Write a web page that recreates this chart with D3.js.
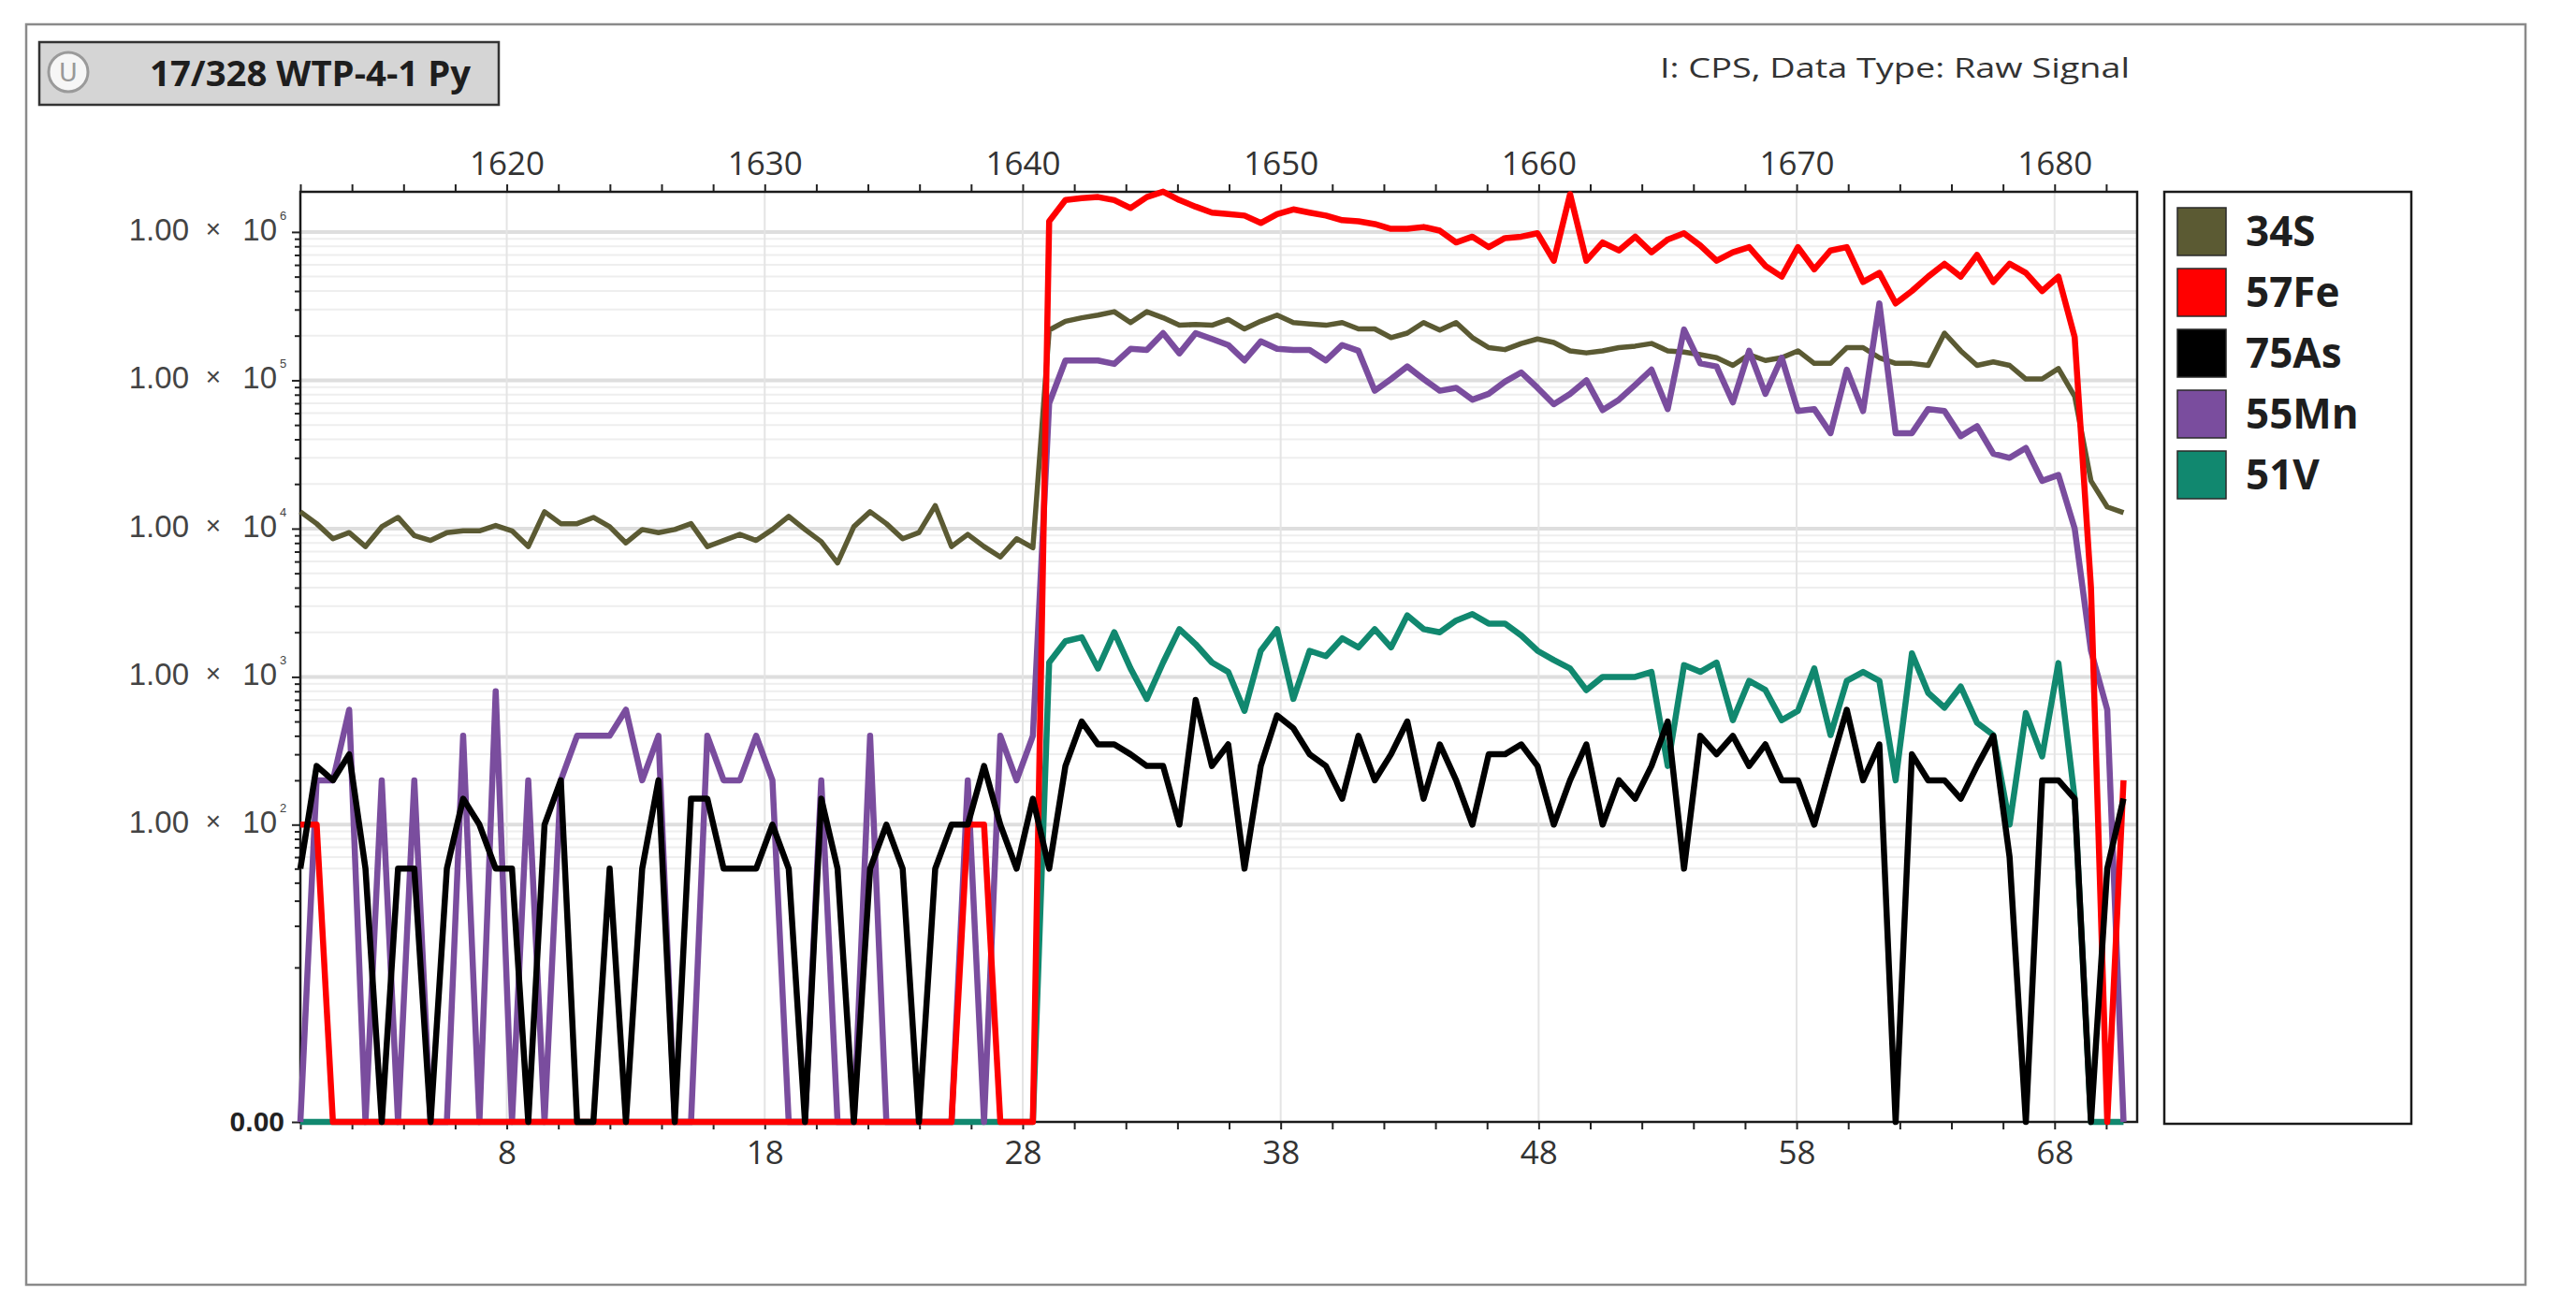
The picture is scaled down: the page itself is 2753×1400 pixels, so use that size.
<!DOCTYPE html>
<html>
<head>
<meta charset="utf-8">
<script src="https://cdn.jsdelivr.net/npm/d3@7"></script>
<style>
  body { margin: 0; background: #fff; }
  svg { display: block; }
</style>
</head>
<body>
<svg id="chart" width="2753" height="1400"></svg>
<script>
// acquisition: one reading per sweep, bottom axis starts at 0, top axis is absolute time
const sweepSeconds = 0.631;
const startTime = 1612;

const s34 = [13000, 10800, 8550, 9400, 7570, 10300, 11900, 8970, 8320, 9400,
  9660, 9660, 10500, 9660, 7570, 13000, 10800, 10800, 11900, 10300,
  8010, 9860, 9400, 9860, 10800, 7570, 8320, 9140, 8320, 9860,
  12100, 9860, 8170, 5870, 10300, 13000, 10800, 8550, 9400, 14300,
  7570, 9140, 7570, 6440, 8550, 7430, 218000, 250000, 264000, 275000,
  290000, 245000, 290000, 264000, 235000, 238000, 235000, 257000, 222000, 250000,
  275000, 245000, 240000, 235000, 245000, 222000, 222000, 194000, 208000, 245000,
  218000, 245000, 194000, 166000, 161000, 177000, 190000, 180000, 158000, 153000,
  158000, 166000, 170000, 177000, 158000, 155000, 149000, 142000, 126000, 149000,
  136000, 142000, 158000, 130000, 130000, 166000, 166000, 142000, 130000, 130000,
  126000, 208000, 158000, 126000, 133000, 126000, 102000, 102000, 120000, 78000,
  21000, 14000, 12800];

const fe57 = [100, 100, 0, 0, 0, 0, 0, 0, 0, 0,
  0, 0, 0, 0, 0, 0, 0, 0, 0, 0,
  0, 0, 0, 0, 0, 0, 0, 0, 0, 0,
  0, 0, 0, 0, 0, 0, 0, 0, 0, 0,
  0, 100, 100, 0, 0, 0, 1180000, 1640000, 1690000, 1720000,
  1640000, 1450000, 1720000, 1870000, 1640000, 1480000, 1350000, 1320000, 1290000, 1150000,
  1320000, 1420000, 1350000, 1290000, 1200000, 1180000, 1130000, 1050000, 1050000, 1080000,
  1020000, 850000, 930000, 790000, 910000, 930000, 980000, 640000, 1800000, 640000,
  850000, 750000, 930000, 730000, 890000, 980000, 810000, 640000, 730000, 790000,
  590000, 500000, 790000, 560000, 750000, 790000, 460000, 530000, 330000, 400000,
  500000, 610000, 500000, 700000, 460000, 610000, 530000, 400000, 500000, 195000,
  4000, 0, 200];

const as75 = [50, 250, 200, 300, 50, 0, 50, 50, 0, 50,
  150, 100, 50, 50, 0, 100, 200, 0, 0, 50,
  0, 50, 200, 0, 150, 150, 50, 50, 50, 100,
  50, 0, 150, 50, 0, 50, 100, 50, 0, 50,
  100, 100, 250, 100, 50, 150, 50, 250, 500, 350,
  350, 300, 250, 250, 100, 700, 250, 350, 50, 250,
  550, 450, 300, 250, 150, 400, 200, 300, 500, 150,
  350, 200, 100, 300, 300, 350, 250, 100, 200, 350,
  100, 200, 150, 250, 500, 50, 400, 300, 400, 250,
  350, 200, 200, 100, 250, 600, 200, 350, 0, 300,
  200, 200, 150, 250, 400, 60, 0, 200, 200, 150,
  0, 50, 150];

const mn55 = [0, 200, 200, 600, 0, 200, 0, 200, 0, 0,
  400, 0, 800, 0, 200, 0, 200, 400, 400, 400,
  600, 200, 400, 0, 0, 400, 200, 200, 400, 200,
  0, 0, 200, 0, 0, 400, 0, 0, 0, 0,
  0, 200, 0, 400, 200, 400, 70000, 136000, 136000, 136000,
  129000, 163000, 160000, 208000, 152000, 208000, 190000, 173000, 136000, 183000,
  163000, 160000, 160000, 136000, 173000, 158000, 85000, 102000, 124000, 102000,
  85000, 89000, 74000, 81000, 98000, 113000, 89000, 69000, 81000, 100000,
  63000, 74000, 93000, 118000, 64000, 220000, 130000, 124000, 71000, 158000,
  81000, 142000, 62000, 64000, 44000, 118000, 62000, 330000, 44000, 44000,
  64000, 62000, 42000, 49000, 32000, 30000, 35000, 21000, 23000, 10000,
  1500, 600, 0];

const v51 = [0, 0, 0, 0, 0, 0, 0, 0, 0, 0,
  0, 0, 0, 0, 0, 0, 0, 0, 0, 0,
  0, 0, 0, 0, 0, 0, 0, 0, 0, 0,
  0, 0, 0, 0, 0, 0, 0, 0, 0, 0,
  0, 0, 0, 0, 0, 0, 1250, 1740, 1850, 1140,
  2000, 1140, 710, 1250, 2100, 1660, 1250, 1080, 590, 1500,
  2100, 710, 1500, 1380, 1820, 1580, 2100, 1580, 2600, 2100,
  2000, 2400, 2650, 2290, 2290, 1900, 1500, 1300, 1140, 815,
  1000, 1000, 1000, 1080, 250, 1200, 1080, 1250, 510, 940,
  815, 510, 590, 1140, 405, 940, 1080, 940, 200, 1440,
  780, 620, 860, 490, 405, 100, 570, 290, 1240, 150,
  0, 0, 0];

const legendNames = ["34S", "57Fe", "75As", "55Mn", "51V"];
const legendColors = ["#5b5a33", "#ff0000", "#000000", "#7a4d9e", "#11886f"];
const drawOrder = ["51V", "34S", "55Mn", "57Fe", "75As"];
const topLabels = [1620, 1630, 1640, 1650, 1660, 1670, 1680];
const bottomLabels = [8, 18, 28, 38, 48, 58, 68];
const decades = [2, 3, 4, 5, 6];

const valuesByName = { "34S": s34, "57Fe": fe57, "75As": as75, "55Mn": mn55, "51V": v51 };

const svg = d3.select("#chart");
const plot = { left: 321, right: 2284, top: 205, bottom: 1199 };
const tickFont = "'Open Sans', 'Noto Sans', sans-serif";

// outer window frame
svg.append("rect")
    .attr("x", 28).attr("y", 26)
    .attr("width", 2671).attr("height", 1347)
    .attr("fill", "#fff")
    .attr("stroke", "#8a8a8a")
    .attr("stroke-width", 2.5);

// sample title button
const titleG = svg.append("g");
titleG.append("rect")
    .attr("x", 42).attr("y", 45)
    .attr("width", 491).attr("height", 67)
    .attr("fill", "#d5d5d5")
    .attr("stroke", "#333")
    .attr("stroke-width", 2.5);
titleG.append("circle")
    .attr("cx", 73).attr("cy", 77).attr("r", 21)
    .attr("fill", "#f6f6f6")
    .attr("stroke", "#9a9a9a")
    .attr("stroke-width", 3);
titleG.append("text")
    .attr("x", 73).attr("y", 87)
    .attr("text-anchor", "middle")
    .attr("font-family", "'DejaVu Sans', sans-serif")
    .attr("font-size", 27)
    .attr("fill", "#999")
    .text("U");
titleG.append("text")
    .attr("x", 160).attr("y", 92)
    .attr("font-family", "'Open Sans', sans-serif")
    .attr("font-weight", "bold")
    .attr("font-size", 37)
    .attr("textLength", 343)
    .attr("lengthAdjust", "spacingAndGlyphs")
    .attr("fill", "#1e1e1e")
    .text("17/328 WTP-4-1 Py");

svg.append("text")
    .attr("x", 2276).attr("y", 83)
    .attr("text-anchor", "end")
    .attr("font-family", tickFont)
    .attr("font-size", 30)
    .attr("textLength", 502)
    .attr("lengthAdjust", "spacingAndGlyphs")
    .attr("fill", "#333")
    .text("I: CPS, Data Type: Raw Signal");

const sampleTimes = s34.map((d, i) => i * sweepSeconds);

const x = d3.scaleLinear()
    .domain([0, 71.2])
    .range([plot.left, plot.right]);
const xTop = d3.scaleLinear()
    .domain([startTime, startTime + 71.2])
    .range([plot.left, plot.right]);
const y = d3.scaleSymlog()
    .constant(1)
    .domain([0, 1.865e6])
    .range([plot.bottom, plot.top]);

// log gridlines: every 1..9 x 10^k
const minorValues = [];
for (let k = 1; k <= 6; k++) {
    for (let m = 1; m <= 9; m++) {
        const v = m * Math.pow(10, k);
        if (v <= 1.865e6) minorValues.push(v);
    }
}

const grid = svg.append("g");
grid.selectAll(".hgrid")
    .data(minorValues.filter(v => v >= 50))
    .join("line")
    .attr("x1", plot.left).attr("x2", plot.right)
    .attr("y1", d => y(d)).attr("y2", d => y(d))
    .attr("stroke", d => decades.includes(Math.log10(d)) ? "#dedede" : "#eeeeee")
    .attr("stroke-width", d => decades.includes(Math.log10(d)) ? 4 : 2);
grid.selectAll(".vgrid")
    .data(bottomLabels)
    .join("line")
    .attr("x1", d => x(d)).attr("x2", d => x(d))
    .attr("y1", plot.top).attr("y2", plot.bottom)
    .attr("stroke", "#e4e4e4")
    .attr("stroke-width", 2);

// axes
const topAxis = svg.append("g")
    .attr("transform", `translate(0,${plot.top})`)
    .call(d3.axisTop(xTop)
        .tickValues(d3.range(startTime, startTime + 71, 2))
        .tickFormat(d => topLabels.includes(d) ? d : "")
        .tickSize(8).tickSizeOuter(0).tickPadding(10));

const bottomAxis = svg.append("g")
    .attr("transform", `translate(0,${plot.bottom})`)
    .call(d3.axisBottom(x)
        .tickValues(d3.range(0, 71, 2))
        .tickFormat(d => bottomLabels.includes(d) ? d : "")
        .tickSize(8).tickSizeOuter(0).tickPadding(12));

const leftMinor = svg.append("g")
    .attr("transform", `translate(${plot.left},0)`)
    .call(d3.axisLeft(y)
        .tickValues(minorValues.filter(v => !decades.includes(Math.log10(v))))
        .tickFormat("")
        .tickSize(6).tickSizeOuter(0));

const leftMajor = svg.append("g")
    .attr("transform", `translate(${plot.left},0)`)
    .call(d3.axisLeft(y)
        .tickValues([0].concat(decades.map(k => Math.pow(10, k))))
        .tickFormat("")
        .tickSize(9).tickSizeOuter(0));

[topAxis, bottomAxis, leftMinor, leftMajor].forEach(g => {
    g.select(".domain").remove();
    g.selectAll(".tick line").attr("stroke", "#222").attr("stroke-width", 2);
    g.selectAll(".tick text")
        .attr("font-family", tickFont)
        .attr("font-size", 35)
        .attr("fill", "#333");
});

// y labels "1.00 × 10^k" and "0.00"
const yLabelFont = "'Liberation Sans', Arial, sans-serif";
const yLabels = svg.append("g")
    .attr("font-family", yLabelFont)
    .attr("fill", "#444");
decades.forEach(k => {
    const ty = y(Math.pow(10, k));
    yLabels.append("text")
        .attr("x", 202).attr("y", ty + 9)
        .attr("text-anchor", "end")
        .attr("font-size", 33)
        .text("1.00");
    yLabels.append("text")
        .attr("x", 228).attr("y", ty + 6)
        .attr("text-anchor", "middle")
        .attr("font-size", 28)
        .text("×");
    yLabels.append("text")
        .attr("x", 296).attr("y", ty + 9)
        .attr("text-anchor", "end")
        .attr("font-size", 33)
        .text("10");
    yLabels.append("text")
        .attr("x", 299).attr("y", ty - 13)
        .attr("font-size", 13)
        .text(k);
});
yLabels.append("text")
    .attr("x", 304).attr("y", y(0) + 10)
    .attr("text-anchor", "end")
    .attr("font-size", 30)
    .attr("font-weight", "bold")
    .attr("fill", "#222")
    .text("0.00");

// plot frame
svg.append("rect")
    .attr("x", plot.left).attr("y", plot.top)
    .attr("width", plot.right - plot.left)
    .attr("height", plot.bottom - plot.top)
    .attr("fill", "none")
    .attr("stroke", "#1a1a1a")
    .attr("stroke-width", 2.5);

const line = d3.line()
    .x((d, i) => x(sampleTimes[i]))
    .y(d => y(d));

svg.append("g")
    .selectAll("path")
    .data(drawOrder)
    .join("path")
    .attr("d", name => line(valuesByName[name]))
    .attr("fill", "none")
    .attr("stroke", name => legendColors[legendNames.indexOf(name)])
    .attr("stroke-width", name => name === "34S" ? 5.5 : 6.5)
    .attr("stroke-linejoin", "round");

// legend
const legend = svg.append("g");
legend.append("rect")
    .attr("x", 2313).attr("y", plot.top)
    .attr("width", 264).attr("height", plot.bottom - plot.top + 2)
    .attr("fill", "#fff")
    .attr("stroke", "#1a1a1a")
    .attr("stroke-width", 2.5);
const items = legend.selectAll(".item")
    .data(legendNames)
    .join("g")
    .attr("transform", (d, i) => `translate(2327,${222 + i * 65})`);
items.append("rect")
    .attr("width", 52).attr("height", 51)
    .attr("fill", (d, i) => legendColors[i])
    .attr("stroke", "#2a2a2a")
    .attr("stroke-width", 1.5);
items.append("text")
    .attr("x", 73).attr("y", 41)
    .attr("font-family", "'Open Sans', sans-serif")
    .attr("font-weight", "bold")
    .attr("font-size", 44)
    .attr("fill", "#1e1e1e")
    .text(d => d);
</script>
</body>
</html>
